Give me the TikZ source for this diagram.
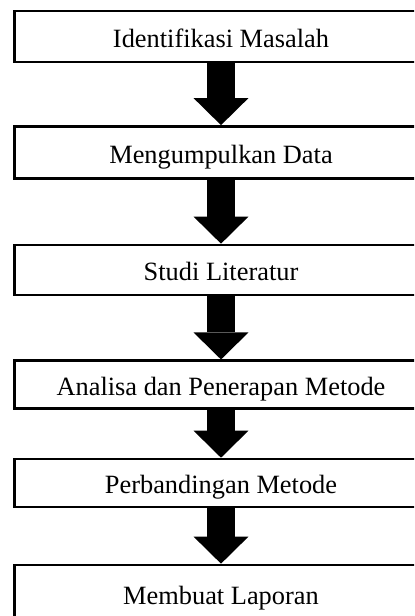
\documentclass[tikz,border=0pt]{standalone}
\usepackage{fontspec}
\setmainfont{Liberation Serif}
\usetikzlibrary{arrows.meta}

\begin{document}
\begin{tikzpicture}[x=0.455pt, y=-0.455pt,
        stagebox/.style={draw, line width=1.2pt, minimum width=188.1pt, inner sep=0pt,
            text height=10pt, text depth=0pt, font=\fontsize{12}{14}\selectfont},
        flowarrow/.style={line width=12.7pt,
            -{Triangle[length=12.3pt, width=25pt, line width=0pt]}}]
        % Fix the frame of the picture
        \useasboundingbox (0,0) rectangle (414,616);
        \clip (0,0) rectangle (414,616);

        % Draw the stages
        \node[stagebox, minimum height=23.2pt] (identifikasi) at (221,36.5) {Identifikasi Masalah};
        \node[stagebox, minimum height=23.7pt] (pengumpulan) at (221,152.5) {Mengumpulkan Data};
        \node[stagebox, minimum height=22.75pt] (literatur) at (221,270) {Studi Literatur};
        \node[stagebox, minimum height=21.8pt] (analisa) at (221,384.75) {Analisa dan Penerapan Metode};
        \node[stagebox, minimum height=21.8pt] (perbandingan) at (221,483) {Perbandingan Metode};
        \node[stagebox, minimum height=26.4pt] (laporan) at (221,594) {Membuat Laporan};

        % Draw the arrows between the stages
        \foreach \from/\to in {identifikasi/pengumpulan, pengumpulan/literatur, literatur/analisa,
                analisa/perbandingan, perbandingan/laporan} {
            \draw[flowarrow] (\from.south) -- (\to.north);
        }
    \end{tikzpicture}
\end{document}
